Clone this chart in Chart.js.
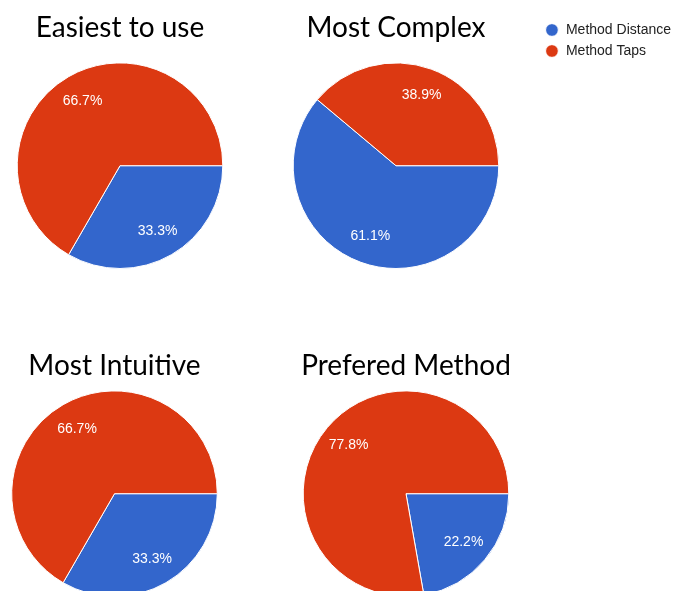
<!DOCTYPE html>
<html>
<head>
<meta charset="utf-8">
<script src="https://cdn.jsdelivr.net/npm/chart.js@4/dist/chart.umd.min.js"></script>
<style>
  html, body { margin: 0; padding: 0; background: #fff; overflow: hidden; }
  #board { position: relative; width: 675px; height: 591px; overflow: hidden; background: #fff; }
  #board canvas { position: absolute; }
</style>
</head>
<body>
<div id="board">
  <canvas id="pieEasiest"></canvas>
  <canvas id="pieComplex"></canvas>
  <canvas id="pieIntuitive"></canvas>
  <canvas id="piePrefered"></canvas>
</div>
<script>
// Survey answers: number of respondents choosing each method (18 in total)
const methods = ['Method Distance', 'Method Taps'];
const methodColors = ['#3366CC', '#DC3912'];
const questions = ['Easiest to use', 'Most Complex', 'Most Intuitive', 'Prefered Method'];
const easiestVotes = [6, 12];
const complexVotes = [11, 7];
const intuitiveVotes = [6, 12];
const preferedVotes = [4, 14];

const TITLE_FONT = 'Lato, "Open Sans", sans-serif';
const LABEL_FONT = '"Liberation Sans", Arial, sans-serif';

// Percentage written inside every slice, along its middle angle
const percentLabels = {
  id: 'percentLabels',
  afterDatasetsDraw(chart) {
    const ctx = chart.ctx;
    const values = chart.data.datasets[0].data;
    const total = values.reduce((a, b) => a + b, 0);
    ctx.save();
    ctx.font = '14px ' + LABEL_FONT;
    ctx.fillStyle = '#ffffff';
    ctx.textAlign = 'center';
    ctx.textBaseline = 'middle';
    chart.getDatasetMeta(0).data.forEach((arc, i) => {
      const p = arc.getProps(['x', 'y', 'startAngle', 'endAngle', 'outerRadius'], true);
      const mid = (p.startAngle + p.endAngle) / 2;
      const r = p.outerRadius * 0.73;
      const pct = (values[i] / total * 100).toFixed(1) + '%';
      ctx.fillText(pct, p.x + Math.cos(mid) * r, p.y + Math.sin(mid) * r);
    });
    ctx.restore();
  }
};

function makePie(id, box, title, values, withLegend) {
  const canvas = document.getElementById(id);
  canvas.width = box.width;
  canvas.height = box.height;
  canvas.style.left = box.left + 'px';
  canvas.style.top = box.top + 'px';
  canvas.style.width = box.width + 'px';
  canvas.style.height = box.height + 'px';
  return new Chart(canvas, {
    type: 'pie',
    data: {
      labels: methods,
      datasets: [{
        data: values,
        backgroundColor: methodColors,
        borderColor: '#ffffff',
        borderWidth: 1
      }]
    },
    options: {
      responsive: false,
      devicePixelRatio: 1,
      animation: false,
      events: [],
      rotation: 90,
      layout: { padding: { top: box.padTop, left: 0, right: 0, bottom: 0 } },
      plugins: {
        title: {
          display: true,
          text: title,
          fullSize: false,
          color: '#000000',
          font: { family: TITLE_FONT, size: 28, weight: 'normal', lineHeight: 0.8 },
          padding: box.titlePad
        },
        legend: {
          display: withLegend,
          position: 'right',
          align: 'start',
          labels: {
            usePointStyle: true,
            pointStyle: 'circle',
            boxHeight: 9,
            padding: 7,
            color: '#222222',
            font: { family: LABEL_FONT, size: 14 }
          }
        },
        tooltip: { enabled: false }
      }
    },
    plugins: [percentLabels]
  });
}

makePie('pieEasiest',   { left: 0,   top: 0,   width: 240, height: 269, padTop: 16, titlePad: { top: 1, bottom: 23 } }, questions[0], easiestVotes, false);
makePie('pieComplex',   { left: 254, top: 0,   width: 427, height: 269, padTop: 16, titlePad: { top: 1, bottom: 23 } }, questions[1], complexVotes, true);
makePie('pieIntuitive', { left: 0,   top: 330, width: 229, height: 267, padTop: 0,  titlePad: { top: 25, bottom: 13 } }, questions[2], intuitiveVotes, false);
makePie('piePrefered',  { left: 286, top: 330, width: 240, height: 267, padTop: 0,  titlePad: { top: 25, bottom: 13 } }, questions[3], preferedVotes, false);
</script>
</body>
</html>
